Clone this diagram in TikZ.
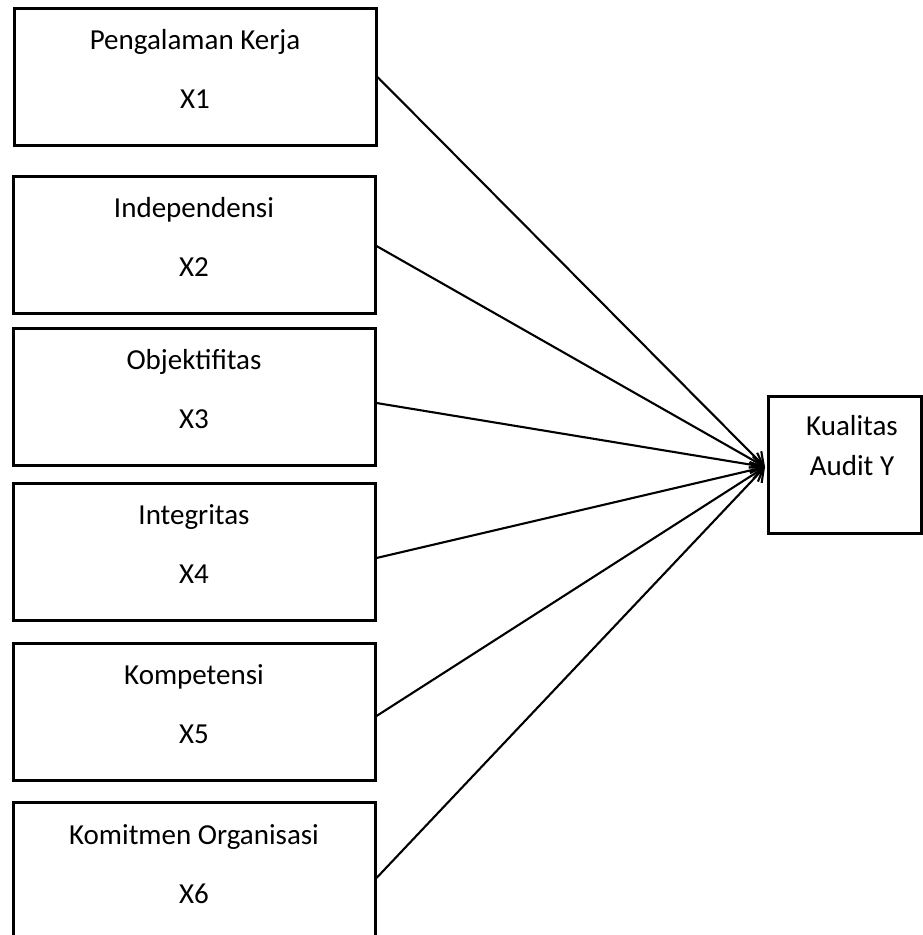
\documentclass[tikz,border=0pt]{standalone}
\usepackage{fontspec}
\setmainfont{Carlito}
\usetikzlibrary{arrows.meta}

\begin{document}
\begin{tikzpicture}[x=1pt, y=-1pt,
    varbox/.style={draw, line width=3pt, inner sep=0pt, minimum width=362pt, minimum height=137pt},
    vartext/.style={align=center, anchor=base, inner sep=0pt, font=\fontsize{29}{30}\selectfont},
    arr/.style={line width=2.1pt, -{Straight Barb[length=12pt,width=17pt]}}]

  % page = 923 x 935 (y runs downwards)
  \useasboundingbox (0,0) rectangle (923,935);

  % --- independent variables (left column) ---
  \node[varbox] (x1) at (195,77) {};
  \node[varbox] (x2) at (194,244.5) {};
  \node[varbox] (x3) at (194,397) {};
  \node[varbox] (x4) at (194,551.5) {};
  \node[varbox] (x5) at (194,712) {};
  \node[varbox] (x6) at (194,871) {};

  % texts: base anchor sits on the last line
  \node[vartext] (x1t) at (195,108) {Pengalaman Kerja\\[29pt]X1};
  \node[vartext] (x2t) at (194,276) {Independensi\\[29pt]X2};
  \node[vartext] (x3t) at (194,428) {Objektifitas\\[29pt]X3};
  \node[vartext] (x4t) at (194,583) {Integritas\\[29pt]X4};
  \node[vartext] (x5t) at (194,743) {Kompetensi\\[29pt]X5};
  \node[vartext] (x6t) at (194,903) {Komitmen Organisasi\\[29pt]X6};

  % --- dependent variable ---
  \node[varbox, minimum width=153pt] (ky) at (844.5,464.5) {};
  \node[vartext] (kyt) at (852,475) {Kualitas\\[10pt]Audit Y};

  % all arrows meet just left of the Y box
  \coordinate (tip) at (765,467);

  % --- arrows ---
  \draw[arr] (x1.east) -- (tip);
  \draw[arr] ([yshift=-1.5pt]x2.east) -- (tip);
  \draw[arr] ([yshift=-6pt]x3.east) -- (tip);
  \draw[arr] ([yshift=-6.5pt]x4.east) -- (tip);
  \draw[arr] ([yshift=-4pt]x5.east) -- (tip);
  \draw[arr] ([yshift=-7pt]x6.east) -- (tip);
\end{tikzpicture}
\end{document}
